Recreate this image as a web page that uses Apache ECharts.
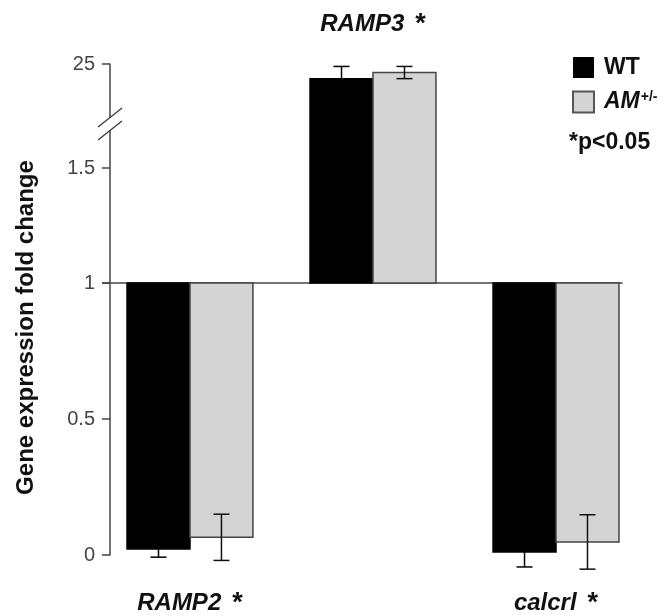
<!DOCTYPE html>
<html><head><meta charset="utf-8">
<script src="https://cdn.jsdelivr.net/npm/echarts@6/dist/echarts.min.js"></script>
<style>html,body{margin:0;padding:0;background:#fff}#c{width:669px;height:616px}</style>
</head><body><div id="c"></div>
<script>
// ---- data ----
const genes = ['RAMP2', 'RAMP3', 'calcrl'];
const groupNames = ['WT', 'AM+/-'];
const wtValues = [0.022, 23.8, 0.011];
const wtErrors = [0.03, 1.0, 0.055];
const amValues = [0.065, 24.3, 0.048];
const amErrors = [0.085, 0.5, 0.1];
const tickValues = [0, 0.5, 1, 1.5, 25];
const baselineValue = 1;
const breakValue = 20;
// broken-axis scale definition (value knots -> display knots)
const axisValueKnots = [0, 1, 1.5, 20, 25];
const axisDisplayKnots = [0, 1, 1.4228, 1.5809, 1.8051];

function toDisp(v) {
  const K = axisValueKnots, D = axisDisplayKnots;
  let s = 0;
  while (s < K.length - 2 && v > K[s + 1]) s++;
  return D[s] + (v - K[s]) * (D[s + 1] - D[s]) / (K[s + 1] - K[s]);
}
const tickDisp = tickValues.map(toDisp);
const upIdx = genes.map((g, i) => i).filter(i => wtValues[i] > baselineValue);
const downIdx = genes.map((g, i) => i).filter(i => wtValues[i] <= baselineValue);

const X_MIN = -0.437, X_MAX = 2.377, HALF_W = 0.344;
const FONT = 'Liberation Sans, Arial, Helvetica, sans-serif';

function barRender(groupIdx, fill, stroke, errColor) {
  return function (params, api) {
    const i = api.value(0), v = api.value(1), e = api.value(2);
    const xa = groupIdx === 0 ? i - HALF_W : i;
    const xb = groupIdx === 0 ? i : i + HALF_W;
    const pA = api.coord([xa, toDisp(baselineValue)]);
    const pB = api.coord([xb, toDisp(v)]);
    const cx = (pA[0] + pB[0]) / 2;
    const yHi = api.coord([i, toDisp(v + e)])[1];
    const yLo = api.coord([i, toDisp(v - e)])[1];
    const cap = 8;
    const ls = { stroke: errColor, lineWidth: 1.5 };
    return {
      type: 'group', children: [
        { type: 'rect', shape: { x: pA[0], y: Math.min(pA[1], pB[1]), width: pB[0] - pA[0], height: Math.abs(pB[1] - pA[1]) },
          style: { fill: fill, stroke: stroke, lineWidth: 1.5 } },
        { type: 'line', shape: { x1: cx, y1: yHi, x2: cx, y2: yLo }, style: ls },
        { type: 'line', shape: { x1: cx - cap, y1: yHi, x2: cx + cap, y2: yHi }, style: ls },
        { type: 'line', shape: { x1: cx - cap, y1: yLo, x2: cx + cap, y2: yLo }, style: ls }
      ]
    };
  };
}

function decoRender(params, api) {
  const pL = api.coord([X_MIN, toDisp(baselineValue)]);
  const pR = api.coord([genes.length - 1 + HALF_W + 0.02, toDisp(baselineValue)]);
  const pB = api.coord([X_MIN, toDisp(breakValue)]);
  const ax = pB[0], yc = pB[1] - 1;
  const st = { stroke: '#444', lineWidth: 1.5 };
  return {
    type: 'group', children: [
      { type: 'line', shape: { x1: pL[0] - 8, y1: pL[1], x2: pR[0], y2: pR[1] }, style: st },
      { type: 'rect', shape: { x: ax - 4, y: yc - 6, width: 8, height: 12 }, style: { fill: '#fff' } },
      { type: 'line', shape: { x1: ax - 12, y1: yc - 6.5 + 9.5, x2: ax + 12, y2: yc - 6.5 - 9.5 }, style: st },
      { type: 'line', shape: { x1: ax - 12, y1: yc + 6.5 + 9.5, x2: ax + 12, y2: yc + 6.5 - 9.5 }, style: st }
    ]
  };
}

const catRich = {
  g: { fontFamily: FONT, fontSize: 24, fontWeight: 'bold', fontStyle: 'italic', color: '#111' },
  s: { fontFamily: FONT, fontSize: 27, fontWeight: 'bold', color: '#111', padding: [0, 0, 0, 11] }
};
const catFormatter = v => '{g|' + genes[Math.round(v)] + '}{s|*}';

const chart = echarts.init(document.getElementById('c'), null, { renderer: 'canvas' });
chart.setOption({
  animation: false,
  backgroundColor: '#fff',
  title: { text: '*p<0.05', left: 569, top: 131, padding: 0,
    textStyle: { fontFamily: FONT, fontSize: 23, fontWeight: 'bold', color: '#111' } },
  legend: {
    orient: 'vertical', left: 572, top: 56, padding: 0,
    itemWidth: 21, itemHeight: 21, itemGap: 11, icon: 'rect',
    data: groupNames,
    formatter: n => n === 'WT' ? '{b|WT}' : '{i|AM}{sup|+/-}',
    textStyle: {
      padding: [0, 0, 0, 5],
      rich: {
        b: { fontFamily: FONT, fontSize: 23, fontWeight: 'bold', color: '#111', lineHeight: 21 },
        i: { fontFamily: FONT, fontSize: 23, fontWeight: 'bold', fontStyle: 'italic', color: '#111', lineHeight: 21 },
        sup: { fontFamily: FONT, fontSize: 14, fontWeight: 'bold', color: '#111', padding: [0, 0, 10, 1], lineHeight: 21 }
      }
    }
  },
  grid: { left: 110, right: 44, top: 64, bottom: 61, containLabel: false, outerBoundsMode: 'none' },
  xAxis: [
    { type: 'value', position: 'bottom', min: X_MIN, max: X_MAX,
      axisLine: { show: false, onZero: false }, axisTick: { show: false }, splitLine: { show: false },
      axisLabel: { customValues: downIdx, formatter: catFormatter, margin: 35, rich: catRich } },
    { type: 'value', position: 'top', min: X_MIN, max: X_MAX,
      axisLine: { show: false, onZero: false }, axisTick: { show: false }, splitLine: { show: false },
      axisLabel: { customValues: upIdx, formatter: catFormatter, margin: 26, rich: catRich } }
  ],
  yAxis: {
    type: 'value', min: 0, max: toDisp(tickValues[tickValues.length - 1]),
    name: 'Gene expression fold change', nameLocation: 'middle', nameRotate: 90, nameGap: 72,
    nameTextStyle: { fontFamily: FONT, fontSize: 24, fontWeight: 'bold', color: '#111', padding: [0, 36, 0, 0] },
    axisLine: { show: true, onZero: false, lineStyle: { color: '#444', width: 1.5 } },
    axisTick: { show: true, customValues: tickDisp, length: 8, inside: false, lineStyle: { color: '#444', width: 1.5 } },
    axisLabel: { customValues: tickDisp, margin: 15, fontFamily: FONT, fontSize: 20, color: '#444',
      formatter: val => {
        let best = tickValues[0];
        tickValues.forEach(t => { if (Math.abs(toDisp(t) - val) < Math.abs(toDisp(best) - val)) best = t; });
        return String(best);
      } },
    splitLine: { show: false }
  },
  series: [
    { name: 'deco', type: 'custom', renderItem: decoRender, data: [[0, 0]], silent: true, z: 3 },
    { name: groupNames[0], type: 'custom', renderItem: barRender(0, '#000', '#000', '#000'),
      itemStyle: { color: '#000' },
      data: genes.map((g, i) => [i, wtValues[i], wtErrors[i]]), z: 4 },
    { name: groupNames[1], type: 'custom', renderItem: barRender(1, '#d4d4d4', '#444', '#111'),
      itemStyle: { color: '#d4d4d4', borderColor: '#555', borderWidth: 1.5 },
      data: genes.map((g, i) => [i, amValues[i], amErrors[i]]), z: 4 }
  ]
});
</script></body></html>
